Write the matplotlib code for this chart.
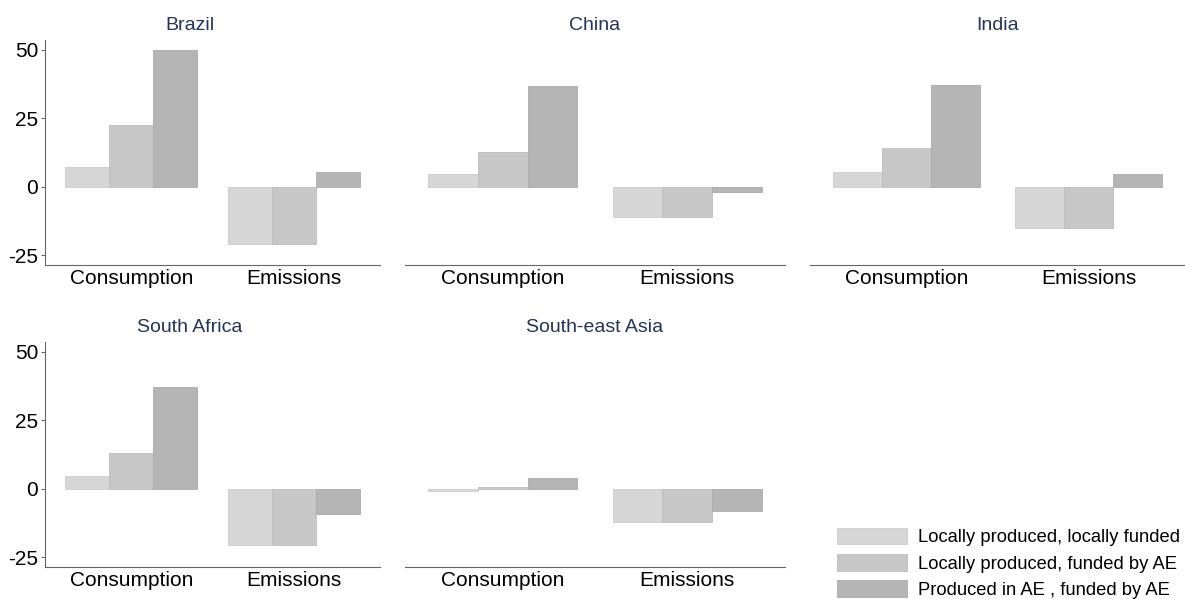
import numpy as np
import matplotlib.pyplot as plt

plt.rcParams['font.family'] = ['Liberation Sans', 'DejaVu Sans']

regions = ['Brazil', 'China', 'India', 'South Africa', 'South-east Asia']
categories = ['Consumption', 'Emissions']
series = ['Locally produced, locally funded',
          'Locally produced, funded by AE',
          'Produced in AE , funded by AE']

# values per region: [Consumption, Emissions] for each funding/production type
local_local = {
    'Brazil': [7.2, -20.8],
    'China': [4.5, -11.0],
    'India': [5.5, -15.0],
    'South Africa': [4.5, -20.5],
    'South-east Asia': [-0.9, -12.2],
}
local_ae = {
    'Brazil': [22.5, -20.8],
    'China': [12.8, -11.0],
    'India': [14.2, -15.0],
    'South Africa': [13.1, -20.5],
    'South-east Asia': [0.5, -12.2],
}
ae_ae = {
    'Brazil': [50.0, 5.2],
    'China': [36.7, -1.9],
    'India': [37.2, 4.5],
    'South Africa': [37.1, -9.4],
    'South-east Asia': [3.7, -8.3],
}

colors = ['#d7d7d7', '#c7c7c7', '#b5b5b5']
edges = ['#cdcdcd', '#bdbdbd', '#ababab']
title_color = '#253457'

W, H = 1185, 599
fig = plt.figure(figsize=(W / 100, H / 100), dpi=100)

# panel boxes in pixels: (left, right, top, bottom)
cols = [(45, 380), (405, 785), (810, 1185)]
rows = [(40, 265), (342, 567)]

x = np.arange(len(categories))
width = 0.27

handles = []
for i, region in enumerate(regions):
    r, c = divmod(i, 3)
    (x0, x1), (y0, y1) = cols[c], rows[r]
    ax = fig.add_axes([x0 / W, 1 - y1 / H, (x1 - x0) / W, (y1 - y0) / H])
    for k, data in enumerate([local_local, local_ae, ae_ae]):
        b = ax.bar(x + (k - 1) * width, data[region], width,
                   color=colors[k], edgecolor=edges[k], linewidth=0.6,
                   label=series[k])
        if i == 0:
            handles.append(b)
    ax.set_xlim(-0.53, 1.53)
    ax.set_ylim(-28.6, 53.5)
    ax.set_xticks(x)
    ax.set_xticklabels(categories, fontsize=15)
    ax.tick_params(axis='x', length=0, pad=3)
    for s in ['top', 'right']:
        ax.spines[s].set_visible(False)
    ax.spines['bottom'].set_color('#666666')
    if c == 0:
        ax.set_yticks([-25, 0, 25, 50])
        ax.set_yticklabels(['-25', '0', '25', '50'], fontsize=15)
        ax.tick_params(axis='y', length=3, color='#666666', pad=2)
        ax.spines['left'].set_color('#666666')
        tx = (190 - x0) / (x1 - x0)
    else:
        ax.set_yticks([])
        ax.spines['left'].set_visible(False)
        tx = 0.5
    ax.text(tx, 1.0 + 14 / (y1 - y0), region, transform=ax.transAxes,
            ha='center', va='center', fontsize=14, color=title_color)

# legend sits in the empty bottom-right slot
fig.legend(handles, series, loc='upper left', frameon=False,
           bbox_to_anchor=(837 / W, 1 - 528 / H), borderaxespad=0, borderpad=0,
           fontsize=13.2, handlelength=3.8, handleheight=1.0,
           handletextpad=0.62, labelspacing=0.42)

fig.savefig('out.png', dpi=100)
